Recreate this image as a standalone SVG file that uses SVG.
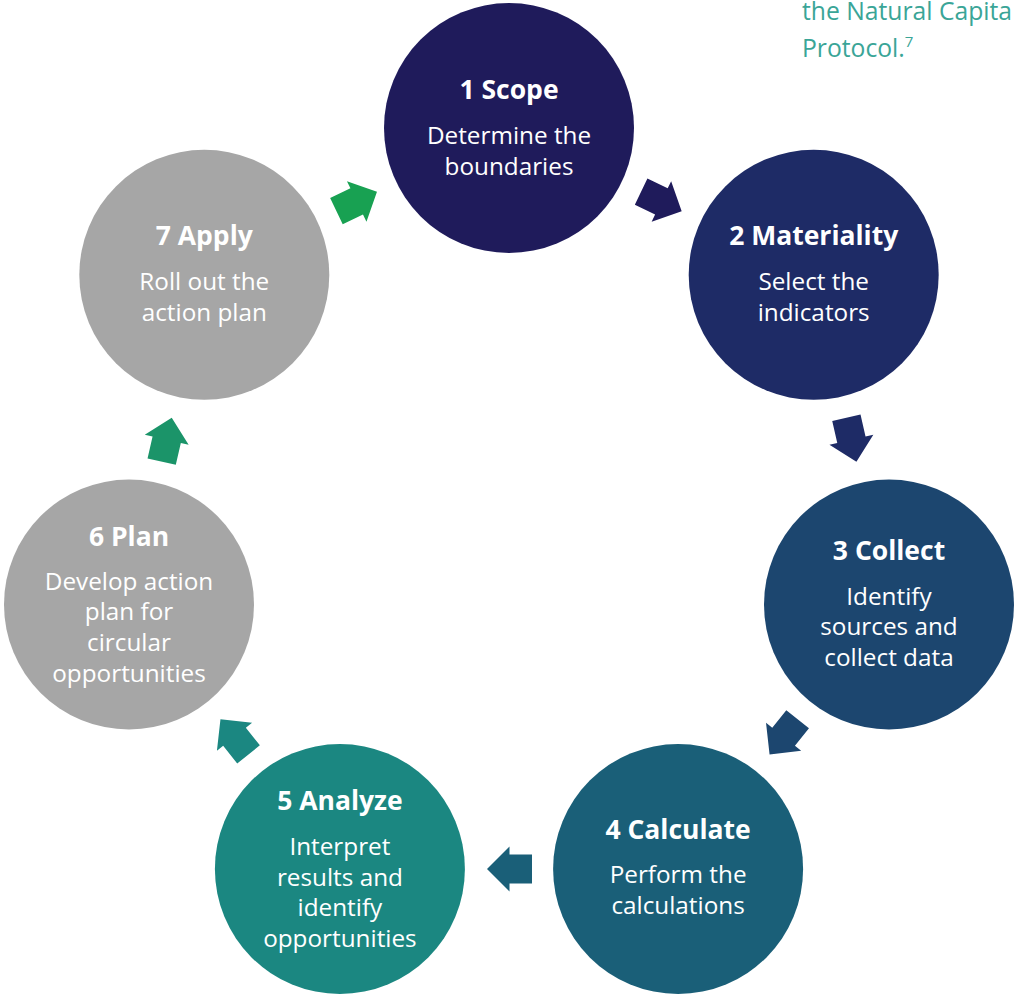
<svg xmlns="http://www.w3.org/2000/svg" width="1015" height="995" viewBox="0 0 1015 995">
<defs>
<style>
.t{font-family:"Open Sans","Noto Sans","Liberation Sans",sans-serif;fill:#ffffff;text-anchor:middle}
.h{font-size:26.5px;font-weight:bold}
.b{font-size:24.3px}
.note{font-family:"Open Sans","Noto Sans","Liberation Sans",sans-serif;fill:#3aa597;font-size:24.7px}
</style>
<path id="arr" d="M -22.5 -14.5 H 0 V -22.5 L 22.5 0 L 0 22.5 V 14.5 H -22.5 Z"/>
</defs>
<rect width="1015" height="995" fill="#ffffff"/>
<g id="note">
<text class="note" x="802" y="20">the Natural Capita</text>
<text class="note" x="802" y="56.5">Protocol.<tspan font-size="15px" dy="-10">7</tspan></text>
</g>
<g id="connectors">
<use href="#arr" fill="#1f1b5b" transform="translate(661.4 201.4) rotate(25.7)"/>
<use href="#arr" fill="#1e2b66" transform="translate(851.4 439.7) rotate(77.1)"/>
<use href="#arr" fill="#1c466f" transform="translate(783.6 736.8) rotate(128.6)"/>
<use href="#arr" fill="#1a5f78" transform="translate(509.5 869) rotate(180)"/>
<use href="#arr" fill="#1b8781" transform="translate(234.5 736.8) rotate(231.4)"/>
<use href="#arr" fill="#1b9469" transform="translate(166.7 439.7) rotate(-77.1)"/>
<use href="#arr" fill="#18a152" transform="translate(356.7 201.4) rotate(-25.7)"/>
</g>
<g id="node1">
<circle cx="509" cy="128" r="125" fill="#1f1b5b"/>
<text class="t h" x="509" y="99">1 Scope</text>
<text class="t b" x="509" y="144">Determine the</text>
<text class="t b" x="509" y="174.5">boundaries</text>
</g>
<g id="node2">
<circle cx="813.7" cy="274.8" r="125" fill="#1e2b66"/>
<text class="t h" x="813.7" y="245">2 Materiality</text>
<text class="t b" x="813.7" y="290">Select the</text>
<text class="t b" x="813.7" y="320.5">indicators</text>
</g>
<g id="node3">
<circle cx="889" cy="604.5" r="125" fill="#1c466f"/>
<text class="t h" x="889" y="560">3 Collect</text>
<text class="t b" x="889" y="604.5">Identify</text>
<text class="t b" x="889" y="635">sources and</text>
<text class="t b" x="889" y="665.5">collect data</text>
</g>
<g id="node4">
<circle cx="678.1" cy="869" r="125" fill="#1a5f78"/>
<text class="t h" x="678.1" y="838.5">4 Calculate</text>
<text class="t b" x="678.1" y="883">Perform the</text>
<text class="t b" x="678.1" y="913.5">calculations</text>
</g>
<g id="node5">
<circle cx="339.9" cy="869" r="125" fill="#1b8781"/>
<text class="t h" x="339.9" y="810">5 Analyze</text>
<text class="t b" x="339.9" y="855">Interpret</text>
<text class="t b" x="339.9" y="885.5">results and</text>
<text class="t b" x="339.9" y="916">identify</text>
<text class="t b" x="339.9" y="946.5">opportunities</text>
</g>
<g id="node6">
<circle cx="129" cy="604.5" r="125" fill="#a6a6a6"/>
<text class="t h" x="129" y="545.5">6 Plan</text>
<text class="t b" x="129" y="589.5">Develop action</text>
<text class="t b" x="129" y="620">plan for</text>
<text class="t b" x="129" y="651">circular</text>
<text class="t b" x="129" y="681.5">opportunities</text>
</g>
<g id="node7">
<circle cx="204.3" cy="274.8" r="125" fill="#a6a6a6"/>
<text class="t h" x="204.3" y="245">7 Apply</text>
<text class="t b" x="204.3" y="290">Roll out the</text>
<text class="t b" x="204.3" y="320.5">action plan</text>
</g>
</svg>
